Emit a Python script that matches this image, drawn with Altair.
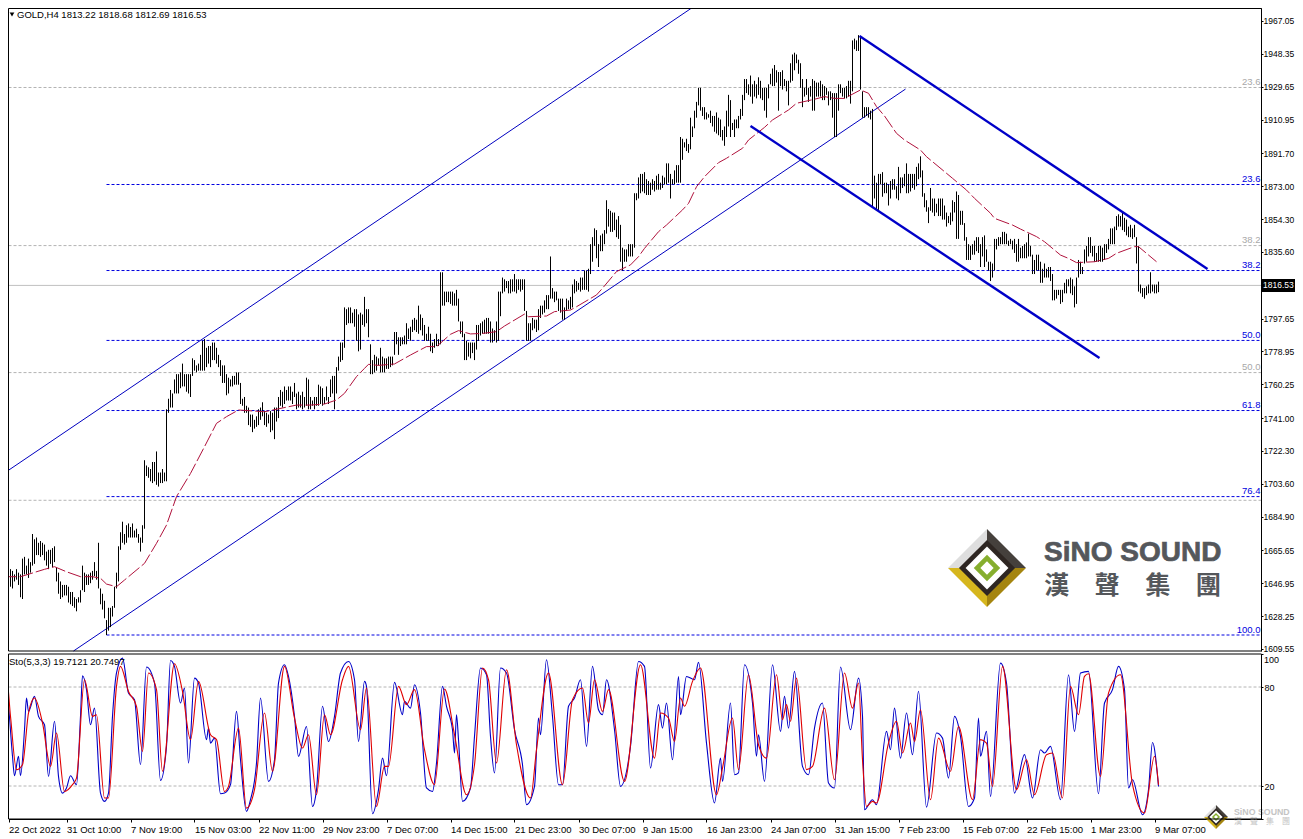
import json
import altair as alt
import pandas as pd

FONT = "Liberation Sans"
CJK = "Noto Sans CJK TC"

# high/low of each H4 bar, one list per time-axis interval
hl_22oct = [(1657,1648),(1671,1651),(1659,1649),(1659,1644),(1655,1645),(1654,1644),(1652,1648),(1655,1649),(1653,1646),(1652,1639),(1661,1638),(1662,1652),(1657,1652),(1661,1650),(1659,1653),(1675,1657),(1672,1658),(1673,1663),(1670,1663),(1671,1662),(1670,1663),(1669,1660),(1665,1657),(1666,1655),(1666,1658),(1667,1656),(1668,1659),(1656,1648),(1653,1641),(1648,1638),(1646,1639),(1646,1640)]
hl_31oct = [(1646,1640),(1645,1636),(1642,1635),(1642,1634),(1639,1633),(1638,1631),(1639,1636),(1643,1636),(1657,1643),(1653,1642),(1652,1646),(1652,1646),(1653,1647),(1654,1649),(1659,1651),(1654,1649),(1670,1644),(1644,1635),(1641,1632),(1637,1627),(1626,1617.5),(1633,1620),(1633,1622),(1634,1628),(1645,1633),(1653,1644),(1668,1648),(1676,1666),(1682,1670),(1675,1669),(1680,1670),(1681,1673)]
hl_7nov = [(1679,1673),(1681,1673),(1677,1673),(1678,1673),(1675,1670),(1673,1665),(1680,1670),(1717,1678),(1714,1708),(1713,1707),(1712,1705),(1716,1704),(1716,1705),(1722,1703),(1710,1702),(1710,1704),(1712,1704),(1710,1705),(1746,1705),(1752,1744),(1757,1747),(1755,1747),(1763,1755),(1766,1755),(1766,1755),(1767,1758),(1772,1759),(1766,1759),(1766,1756),(1766,1755),(1766,1753),(1775,1765)]
hl_15nov = [(1774,1768),(1771,1767),(1772,1768),(1777,1768),(1785,1768),(1786,1768),(1781,1770),(1782,1772),(1782,1770),(1784,1774),(1784,1774),(1781,1772),(1777,1770),(1774,1765),(1771,1761),(1771,1761),(1766,1754),(1764,1755),(1763,1759),(1765,1759),(1765,1760),(1767,1760),(1767,1760),(1761,1749),(1752,1748),(1753,1744),(1748,1744),(1747,1737),(1743,1736),(1743,1733),(1740,1735),(1742,1736)]
hl_22nov = [(1746,1737),(1747,1740),(1750,1742),(1745,1737),(1744,1736),(1743,1738),(1745,1733),(1744,1734),(1747,1729),(1747,1739),(1753,1741),(1757,1748),(1756,1747),(1759,1749),(1757,1751),(1759,1751),(1759,1751),(1756,1749),(1761,1753),(1755,1746),(1756,1747),(1754,1747),(1756,1746),(1753,1747),(1764,1748),(1763,1746),(1753,1746),(1751,1748),(1753,1746),(1753,1748),(1760,1748),(1759,1749)]
hl_29nov = [(1758,1748),(1753,1749),(1759,1751),(1753,1749),(1763,1753),(1765,1755),(1765,1746),(1770,1755),(1776,1768),(1784,1773),(1784,1774),(1804,1781),(1803,1794),(1804,1795),(1804,1795),(1801,1795),(1803,1793),(1803,1785),(1800,1779),(1801,1780),(1800,1794),(1810,1793),(1803,1795),(1803,1787),(1783,1766),(1774,1766),(1777,1767),(1776,1768),(1775,1771),(1781,1767),(1776,1767),(1775,1767)]
hl_7dec = [(1775,1769),(1776,1769),(1776,1770),(1776,1771),(1790,1777),(1790,1783),(1787,1777),(1787,1782),(1787,1783),(1788,1783),(1795,1783),(1792,1786),(1793,1785),(1797,1790),(1798,1791),(1797,1790),(1805,1789),(1800,1791),(1798,1788),(1794,1785),(1789,1785),(1793,1785),(1789,1779),(1784,1778),(1786,1781),(1789,1782),(1786,1782),(1824,1783),(1824,1805),(1813,1805),(1813,1807),(1813,1807)]
hl_14dec = [(1813,1806),(1813,1805),(1812,1805),(1814,1805),(1809,1796),(1796,1789),(1796,1787),(1789,1774),(1785,1774),(1784,1776),(1784,1775),(1784,1778),(1784,1774),(1794,1780),(1794,1785),(1795,1788),(1796,1789),(1797,1789),(1798,1789),(1798,1789),(1796,1784),(1792,1784),(1791,1785),(1796,1784),(1813,1785),(1813,1799),(1821,1812),(1820,1813),(1819,1815),(1819,1812),(1820,1812),(1820,1813)]
hl_21dec = [(1823,1813),(1820,1812),(1820,1814),(1820,1813),(1820,1814),(1820,1802),(1802,1785),(1795,1785),(1795,1785),(1798,1791),(1797,1792),(1797,1790),(1803,1791),(1805,1798),(1805,1800),(1808,1801),(1811,1803),(1811,1803),(1833,1809),(1815,1809),(1813,1807),(1813,1808),(1809,1802),(1809,1801),(1809,1797),(1804,1797),(1809,1802),(1808,1803),(1810,1803),(1817,1804),(1820,1812),(1819,1813)]
hl_30dec = [(1818,1814),(1821,1813),(1821,1814),(1825,1814),(1825,1814),(1826,1813),(1840,1823),(1844,1830),(1849,1839),(1848,1832),(1840,1827),(1845,1836),(1846,1836),(1848,1840),(1865,1846),(1860,1850),(1859,1847),(1858,1847),(1858,1848),(1854,1844),(1856,1843),(1851,1830),(1838,1825),(1837,1830),(1837,1830),(1840,1833),(1840,1833),(1840,1833),(1869,1838),(1869,1865),(1878,1866),(1880,1869)]
hl_9jan = [(1880,1870),(1881,1869),(1877,1868),(1876,1868),(1875,1868),(1877,1871),(1876,1870),(1879,1871),(1880,1871),(1875,1871),(1879,1872),(1878,1874),(1886,1874),(1886,1875),(1880,1866),(1877,1874),(1882,1874),(1885,1875),(1885,1875),(1901,1875),(1900,1888),(1898,1895),(1900,1893),(1897,1892),(1912,1894),(1907,1901),(1916,1906),(1921,1912),(1929,1919),(1929,1916),(1918,1913),(1918,1911)]
hl_16jan = [(1915,1911),(1914,1912),(1916,1909),(1913,1907),(1913,1904),(1915,1903),(1912,1902),(1911,1901),(1905,1899),(1907,1896),(1916,1901),(1925,1907),(1922,1901),(1909,1905),(1911,1901),(1911,1906),(1913,1906),(1917,1911),(1925,1913),(1934,1922),(1934,1926),(1931,1925),(1936,1924),(1931,1920),(1933,1924),(1931,1923),(1935,1925),(1933,1923),(1929,1922),(1929,1916),(1929,1912),(1931,1923)]
hl_24jan = [(1937,1931),(1940,1930),(1942,1930),(1939,1932),(1938,1916),(1938,1930),(1939,1928),(1934,1930),(1933,1927),(1933,1919),(1943,1932),(1948,1933),(1949,1939),(1948,1943),(1945,1937),(1943,1929),(1934,1918),(1929,1924),(1934,1925),(1929,1921),(1930,1924),(1934,1916),(1933,1916),(1932,1924),(1932,1924),(1933,1924),(1931,1922),(1930,1922),(1929,1925),(1927,1919),(1927,1922),(1926,1912)]
hl_31jan = [(1926,1901),(1926,1901),(1931,1916),(1931,1926),(1929,1924),(1929,1923),(1930,1923),(1933,1924),(1933,1920),(1956,1927),(1957,1951),(1956,1950),(1959,1950),(1958,1928),(1927,1912),(1918,1912),(1918,1913),(1918,1912),(1916,1911),(1917,1861),(1879,1866),(1875,1859.5),(1880,1859.5),(1880,1874),(1881,1867),(1875,1869),(1875,1869),(1874,1862),(1876,1866),(1877,1871),(1877,1871),(1873,1866)]
hl_7feb = [(1884,1865),(1878,1869),(1878,1872),(1880,1873),(1886,1869),(1880,1869),(1880,1870),(1880,1872),(1880,1871),(1884,1873),(1886,1877),(1890,1878),(1882,1867),(1869,1861),(1865,1858.5),(1861,1852),(1872,1859),(1866,1858),(1866,1856),(1863,1858),(1866,1856),(1866,1856),(1866,1854),(1862,1854),(1858,1850),(1856,1852),(1858,1851),(1865,1853),(1864,1858),(1870,1843),(1868,1843),(1859,1851)]
hl_15feb = [(1859,1851),(1852,1842),(1844,1831),(1840,1831),(1839,1831),(1840,1834),(1842,1834),(1844,1836),(1844,1835),(1840,1827),(1844,1833),(1845,1827),(1837,1830),(1830,1825),(1830,1819),(1829,1821),(1843,1825),(1843,1837),(1844,1839),(1844,1840),(1847,1840),(1847,1840),(1846,1840),(1842,1839),(1843,1840),(1842,1837),(1843,1835),(1840,1830),(1843,1830),(1838,1832),(1839,1832),(1840,1832)]
hl_22feb = [(1841,1832),(1846,1833),(1839,1833),(1834,1823),(1831,1823),(1834,1825),(1834,1825),(1830,1818),(1826,1818),(1829,1821),(1826,1821),(1827,1821),(1827,1819),(1823,1808),(1814,1808),(1814,1809),(1814,1811),(1814,1806),(1814,1807),(1818,1812),(1820,1812),(1820,1816),(1821,1812),(1820,1811),(1816,1804),(1821,1806),(1831,1821),(1830,1823),(1827,1823),(1837,1829),(1839,1830),(1844,1833)]
hl_1mar = [(1844,1835),(1839,1833),(1839,1830),(1835,1830),(1839,1830),(1839,1830),(1838,1830),(1840,1831),(1840,1835),(1843,1837),(1849,1840),(1849,1840),(1850,1840),(1856,1848),(1857,1850),(1856,1850),(1858.5,1848),(1855,1847),(1854,1845),(1850,1844),(1851,1844),(1849,1843),(1851,1844),(1844,1829),(1839,1813),(1817,1812),(1815,1810),(1815,1809),(1816,1811),(1817,1812),(1824,1812),(1817,1813)]
hl_9mar = [(1817,1812),(1817,1812),(1818.68,1812.69)]

ma_index = [0,9,21,26,32,39,45,49,52,57,61,71,77,82,87,94,101,107,112,118,131,147,154,161,167,171,177,181,183,188,196,201,204,212,217,224,228,234,240,247,251,261,263,272,276,284,287,297,300,307,314,318,321,328,332,340,343,347,351,358,362,370,373,381,385,393,397,406,411,416,421,429,433,437,441,447,451,459,462,471,475,482,486,494,496,505,509,517,521,529,533,537,546,553,557,566,568,577]
ma_values = [1650.7,1650.7,1654.9,1656.4,1653.5,1650.7,1650.7,1649.8,1646.5,1645,1648.8,1658.3,1669.7,1680.1,1696.3,1709.5,1724.7,1738,1741.8,1745.6,1744.6,1748.4,1748.4,1749,1751.3,1755.1,1764.6,1769.3,1771.6,1771,1771.8,1775,1776.9,1781.7,1781.7,1788.7,1790.8,1788.9,1789.2,1790.2,1793.4,1800.2,1798.7,1799.1,1801.6,1802.5,1804.4,1811.1,1814.9,1824.4,1828.2,1832.9,1837.6,1847.1,1850.9,1859.5,1863.2,1872.7,1878.4,1886.4,1888.9,1894.6,1899.3,1906.5,1910.7,1916.4,1920.2,1922.5,1924,1923,1923,1927.8,1925.9,1918.3,1913,1903.1,1899.3,1893.6,1889.8,1881.3,1877.5,1870.8,1866.1,1857.6,1854.7,1850.9,1848.6,1844.3,1841.4,1833.8,1831.9,1829.5,1830,1831.9,1834.8,1838.6,1838.6,1830]

# stochastic main line (index, value)
sto_main_a = [(0,96.5),(1,82.4),(3,68.3),(5,38),(6,26.2),(8,38),(9,26.2),(11,54.1),(12,73.3),(13,65.2),(16,74.3),(18,62.2),(21,57.1),(23,25.8),(26,59.2),(28,25.8),(30,15.7),(32,18.8),(34,26.2),(37,20.8),(39,62.2),(40,86.8),(42,78.4),(44,57.1),(46,67.2),(49,15.7),(51,10.7),(53,15.7),(55,62.2),(57,88.5),(60,97.5),(63,76.3),(66,72.3),(69,32.9),(72,92.1),(76,82.4),(79,23.4),(82,44),(84,96.1),(86,92.5),(89,70.3),(91,79.4),(93,33.9),(96,85.4),(98,82.4),(102,48.1),(103,55.1),(104,46),(106,49),(109,15.3),(111,15.7),(114,20.8),(117,65.2),(119,35.9),(122,4.6),(124,11.7),(127,33.9),(129,73.3),(133,22.8),(136,35.9),(138,82.4),(141,93.5),(143,86.4),(146,62.2),(148,38),(152,56.1),(155,7.6),(157,17.8),(160,68.3),(163,47),(166,62.2),(169,88.5),(173,95.5),(176,84.4),(178,47),(181,83.4),(182,80.4),(185,3.2),(188,17.8),(190,36.9),(192,26.2),(196,82.8),(200,63.2),(201,71.3),(204,67.2),(206,81.4),(209,64.2),(212,18.8)]
sto_main_b = [(215,16.7),(217,33.9),(220,80.4),(222,68.3),(225,54.1),(226,40),(227,63.2),(228,48.1),(230,10.7),(234,18.8),(236,50.1),(239,91.5),(242,87.4),(244,50.1),(246,27.9),(249,91.5),(252,88.5),(256,54.1),(260,32.9),(262,8.7),(266,19.8),(268,61.2),(269,51.1),(272,96.5),(275,62.2),(278,20.8),(280,20.8),(283,68.3),(286,73.3),(289,84.4),(292,44),(295,92.5),(298,66.2),(300,63.2),(302,84.4),(306,54.1),(309,19.8),(314,44),(318,95.5),(321,92.5),(324,30.9),(328,69.3),(330,55.1),(332,70.3),(335,35.9),(338,86.4),(339,63.2),(342,86.4),(346,84.4),(348,94.9),(352,46),(356,9.7),(359,36.9),(360,22.8),(364,70.3),(366,26.8),(368,27.9),(371,93.5),(375,70.3),(377,38),(378,51.1),(381,22.8),(385,93.5),(389,53.1),(391,74.3),(393,55.1),(396,89.5),(400,31.9),(403,26.8),(406,55.1),(410,70.3),(413,21.8),(416,18.8),(419,92.1),(424,54.1),(428,85.4)]
sto_main_c = [(430,62.2),(431,5.6),(435,11.7),(437,8.7),(442,53.1),(444,42),(446,67.2),(449,36.9),(452,64.2),(455,39),(458,77.4),(462,7.2),(467,52.1),(470,49),(473,24.8),(476,62.2),(479,50.1),(483,7.6),(486,12.7),(488,61.2),(489,38),(492,53.1),(494,13.7),(499,94.5),(502,82.4),(506,15.7),(511,39),(515,12.7),(519,42),(521,40),(524,44),(529,11.7),(533,87.4),(536,53.1),(539,88.5),(543,89.5),(548,15.3),(551,70.3),(555,78.4),(558,92.5),(561,78.4),(563,18.8),(565,23.8),(570,2.6),(573,17.8),(575,46.4),(578,19.71)]

# stochastic signal line (index, value)
sto_sig_a = [(0,72.3),(2,86.4),(4,62.2),(7,29.9),(10,32.9),(13,64.2),(16,73.3),(20,58.2),(24,31.9),(27,52.1),(31,16.7),(35,20.8),(37,24.8),(41,84.4),(45,62.2),(47,63.2),(51,12.7),(53,12.7),(57,80.4),(59,92.5),(63,77.3),(67,68.3),(70,41),(73,88.5),(77,78.4),(80,28.9),(86,94.1),(90,77.3),(94,48.1),(98,83.4),(104,51.1),(107,48.1),(111,16.7),(113,19.8),(118,55.1),(122,6.6),(126,17.8),(131,64.2),(135,28.9),(141,92.5),(146,61.2),(150,43),(153,51.1),(157,14.7),(161,63.2),(164,51.1),(170,84.4),(173,92.5),(179,54.1),(182,79.4),(187,7.6),(191,31.9),(193,31.9),(198,80.4),(202,69.3),(206,78.4),(211,42)]
sto_sig_b = [(216,20.8),(221,78.8),(226,51.1),(232,14.7),(236,32.9),(240,91.5),(243,84.4),(247,33.9),(252,90.5),(257,45),(264,12.7),(267,42),(273,88.5),(280,20.8),(285,72.3),(290,79.4),(293,58.2),(296,84.4),(300,65.2),(303,78.4),(311,22.8),(319,93.5),(326,36.9),(329,64.2),(333,61.2),(336,47),(339,73.3),(341,68.3),(345,83.4),(349,91.5),(357,14.7),(360,30.9),(365,61.2),(368,29.9),(373,87.4),(378,45),(382,36.9),(387,87.4),(390,60.2),(392,69.3),(394,59.2),(397,85.4),(402,29.9),(405,31.9),(411,67.2),(416,23.8),(421,88.5),(425,67.2),(428,82.4)]
sto_sig_c = [(430,35.9),(432,7.6),(435,10.7),(437,9.7),(443,46),(447,59.2),(450,40),(454,58.2),(456,47),(459,66.2),(464,11.7),(468,49),(474,28.9),(478,56.1),(485,11.7),(489,48.1),(492,46),(495,19.8),(500,92.5),(507,17.8),(512,35.9),(516,14.7),(522,39),(525,40),(530,12.7),(534,80.4),(538,63.2),(541,86.4),(543,88),(549,25.8),(553,76.3),(559,87.4),(565,20.8),(571,3.6),(576,38),(578,20.75)]

price_ticks = [1967.05,1948.35,1929.65,1910.95,1891.70,1873.00,1854.30,1835.60,1797.65,1778.95,1760.25,1741.00,1722.30,1703.60,1684.90,1665.65,1646.95,1628.25,1609.55]
time_labels = ["22 Oct 2022","31 Oct 10:00","7 Nov 19:00","15 Nov 03:00","22 Nov 11:00","29 Nov 23:00","7 Dec 07:00","14 Dec 15:00","21 Dec 23:00","30 Dec 07:00","9 Jan 15:00","16 Jan 23:00","24 Jan 07:00","31 Jan 15:00","7 Feb 23:00","15 Feb 07:00","22 Feb 15:00","1 Mar 23:00","9 Mar 07:00"]
time_ticks = [3] + [32 * k for k in range(1, 19)]

fib_blue_levels = [1873.97,1825.0,1785.2,1745.3,1696.3,1617.5]
fib_blue_names = ["23.6","38.2","50.0","61.8","76.4","100.0"]
fib_gray_levels = [1929.2,1839.2,1766.9,1694.2]
fib_gray_names = ["23.6","38.2","50.0",""]
last_price = 1816.53

channel_thin = [("up",-0.5,1708.6),("up",347.5,1976.7),("low",35.5,1608.4),("low",451.5,1928.3)]
channel_thick = [("up",428.5,1958.5),("up",602.5,1825.9),("low",374,1907.3),("low",548.5,1775.2)]

all_hl = (hl_22oct+hl_31oct+hl_7nov+hl_15nov+hl_22nov+hl_29nov+hl_7dec+hl_14dec+hl_21dec+hl_30dec
          +hl_9jan+hl_16jan+hl_24jan+hl_31jan+hl_7feb+hl_15feb+hl_22feb+hl_1mar+hl_9mar)
bars = pd.DataFrame({"i": range(len(all_hl)), "high": [h for h, _ in all_hl], "low": [l for _, l in all_hl]})
ma = pd.DataFrame({"i": ma_index, "v": ma_values})
sto_main = pd.DataFrame(sto_main_a + sto_main_b + sto_main_c, columns=["i", "v"])
sto_sig = pd.DataFrame(sto_sig_a + sto_sig_b + sto_sig_c, columns=["i", "v"])

# layout of the two panels inside one drawing area (the page adds 8px)
W, H = 1287, 825
PW = 1253
TOP_H = 643
LOW_T, LOW_B = 646, 811

XMIN, XMAX = 3, 629.5
xs = alt.Scale(domain=[XMIN, XMAX], range=[0.5, PW + 0.5], nice=False, zero=False)
ys = alt.Scale(domain=[1608.4, 1974.45], range=[TOP_H, 0], nice=False, zero=False)
ss = alt.Scale(domain=[0, 100], range=[LOW_B, LOW_T], nice=False, zero=False)
one = pd.DataFrame({"a": [0]})

axis_expr = f"{json.dumps(time_labels)}[round(datum.value/32)]"
guide = dict(title=None, grid=False, labelOverlap=False, labelFlush=False, labelBound=False,
             tickColor="black", domainColor="black", labelColor="black", labelFont=FONT)
x_axis = alt.Axis(orient="bottom", offset=LOW_B - H, values=time_ticks, labelExpr=axis_expr, labelAlign="left",
                  tickSize=3, labelPadding=2, labelFontSize=9.5, **guide)
y_axis = alt.Axis(orient="right", offset=PW - W, values=price_ticks, format=".2f",
                  tickSize=2, labelPadding=0, labelFontSize=8.5, **guide)
s_axis = alt.Axis(orient="right", offset=PW - W, values=[0, 20, 80, 100], tickSize=2, labelPadding=1, labelFontSize=9,
                  labelExpr="datum.value==20||datum.value==80?datum.label:''", **guide)


def X(field="i"):
    return alt.X(f"{field}:Q", scale=xs, axis=x_axis)


def Y(field="v"):
    return alt.Y(f"{field}:Q", scale=ys, axis=y_axis)


def S(field="v"):
    return alt.Y(f"{field}:Q", scale=ss, axis=s_axis)


def label(text, x, y, color="black", size=9.5, align="left", baseline="middle", font=FONT, bold=False, stroke=None):
    extra = {"stroke": stroke, "strokeWidth": 0.7} if stroke else {}
    return alt.Chart(one).mark_text(text=text, color=color, fontSize=size, align=align, baseline=baseline,
                                    font=font, fontWeight="bold" if bold else "normal", **extra).encode(
        x=alt.value(x), y=alt.value(y))


def logo(cx, cy, half):
    size = (2 * half) ** 2
    parts = [("M-1,0L0,-1L0,0Z", "#dedede"), ("M0,-1L1,0L0,0Z", "#45403c"), ("M-1,0L0,1L0,0Z", "#d6b61e"),
             ("M1,0L0,1L0,0Z", "#a5850f"), ("M-.72,0L0,-.72L.72,0L0,.72Z", "#2e2622"),
             ("M-.55,0L0,-.55L.55,0L0,.55Z", "#ffffff"), ("M-.34,0L0,-.34L.34,0L0,.34Z", "#86ae2e"),
             ("M-.17,0L0,-.17L.17,0L0,.17Z", "#ffffff")]
    return [alt.Chart(one).mark_point(shape=p, size=size, filled=True, fill=c, opacity=1, strokeWidth=0).encode(
        x=alt.value(cx), y=alt.value(cy)) for p, c in parts]


def frame(y0, y1):
    return alt.Chart(one).mark_rect(fillOpacity=0, stroke="black", strokeWidth=1).encode(
        x=alt.value(0.5), x2=alt.value(PW + 0.5), y=alt.value(y0), y2=alt.value(y1))


gray_df = pd.DataFrame({"y": fib_gray_levels, "name": fib_gray_names, "a": XMIN, "b": XMAX})
blue_df = pd.DataFrame({"y": fib_blue_levels, "name": fib_blue_names, "a": 52, "b": XMAX})
thin_df = pd.DataFrame(channel_thin, columns=["k", "i", "v"])
thick_df = pd.DataFrame(channel_thick, columns=["k", "i", "v"])
last_df = pd.DataFrame({"y": [last_price], "top": [last_price + 3.7], "bot": [last_price - 3.7],
                        "a": [XMIN], "b": [XMAX]})

top_layers = [
    alt.Chart(gray_df).mark_rule(color="#b4b4b4", strokeWidth=1, strokeDash=[3, 2]).encode(x=X("a"), x2="b:Q", y=Y("y")),
    alt.Chart(blue_df).mark_rule(color="#0000e0", strokeWidth=1, strokeDash=[3, 2]).encode(x=X("a"), x2="b:Q", y=Y("y")),
    alt.Chart(last_df).mark_rule(color="#c0c0c0", strokeWidth=1).encode(x=X("a"), x2="b:Q", y=Y("y")),
    alt.Chart(thin_df).mark_line(color="#0000c0", strokeWidth=1).encode(x=X(), y=Y(), detail="k:N"),
    alt.Chart(bars).mark_rule(color="black", strokeWidth=1).encode(x=X(), y=Y("high"), y2="low:Q"),
    alt.Chart(ma).mark_line(color="#b0123c", strokeWidth=1, strokeDash=[14, 3]).encode(x=X(), y=Y()),
    alt.Chart(thick_df).mark_line(color="#0000c8", strokeWidth=2.4).encode(x=X(), y=Y(), detail="k:N"),
    alt.Chart(gray_df).mark_text(color="#a8a8a8", fontSize=9.5, font=FONT, align="right", dy=-5.5, dx=-1).encode(
        x=X("b"), y=Y("y"), text="name:N"),
    alt.Chart(blue_df).mark_text(color="#0000e0", fontSize=9.5, font=FONT, align="right", dy=-5.5, dx=-1).encode(
        x=X("b"), y=Y("y"), text="name:N"),
    alt.Chart(last_df).mark_rect(color="black").encode(x=alt.value(1254), x2=alt.value(W), y=Y("top"), y2="bot:Q"),
    alt.Chart(last_df).mark_text(color="white", fontSize=8.5, font=FONT, align="left").encode(
        x=alt.value(1255), y=Y("y"), text=alt.value("1816.53")),
    alt.Chart(one).mark_point(shape="triangle-down", size=22, filled=True, fill="black", opacity=1, strokeWidth=0).encode(
        x=alt.value(4), y=alt.value(6.5)),
    label("GOLD,H4  1813.22 1818.68 1812.69 1816.53", 9, 6.5),
    *logo(979, 560, 39),
    label("SiNO SOUND", 1036, 553, color="#54575b", size=28, baseline="alphabetic", bold=True, stroke="#54575b"),
    label("漢　聲　集　團", 1036, 577.5, color="#54575b", size=25.3, font=CJK, bold=True),
    frame(0.5, TOP_H),
]
top = alt.layer(*top_layers)

levels = pd.DataFrame({"v": [20, 80], "a": XMIN, "b": XMAX})
bottom_layers = [
    alt.Chart(levels).mark_rule(color="#b4b4b4", strokeWidth=1, strokeDash=[3, 2]).encode(x=X("a"), x2="b:Q", y=S()),
    alt.Chart(sto_main).mark_line(color="#0000c8", strokeWidth=1.1, interpolate="monotone").encode(x=X(), y=S()),
    alt.Chart(sto_sig).mark_line(color="#e00000", strokeWidth=1.1, interpolate="monotone").encode(x=X(), y=S()),
    label("Sto(5,3,3) 19.7121 20.7497", 1, LOW_T + 8),
    label("100", 1256, LOW_T + 6, size=9),
    *logo(1208, LOW_T + 163, 12),
    label("SiNO SOUND", 1226, LOW_T + 158, color="#c4c4c4", size=8.8, bold=True),
    label("漢　聲　集　團", 1226, LOW_T + 168, color="#c4c4c4", size=8, font=CJK),
    frame(LOW_T, LOW_B),
]
bottom = alt.layer(*bottom_layers)

chart = (alt.layer(top, bottom)
         .resolve_scale(y="independent")
         .resolve_axis(y="independent")
         .properties(width=W, height=H, padding=0, background="white",
                     autosize=alt.AutoSizeParams(type="none"))
         .configure_view(stroke=None))
chart.save("out.html", embed_options={"renderer": "svg", "actions": False})
